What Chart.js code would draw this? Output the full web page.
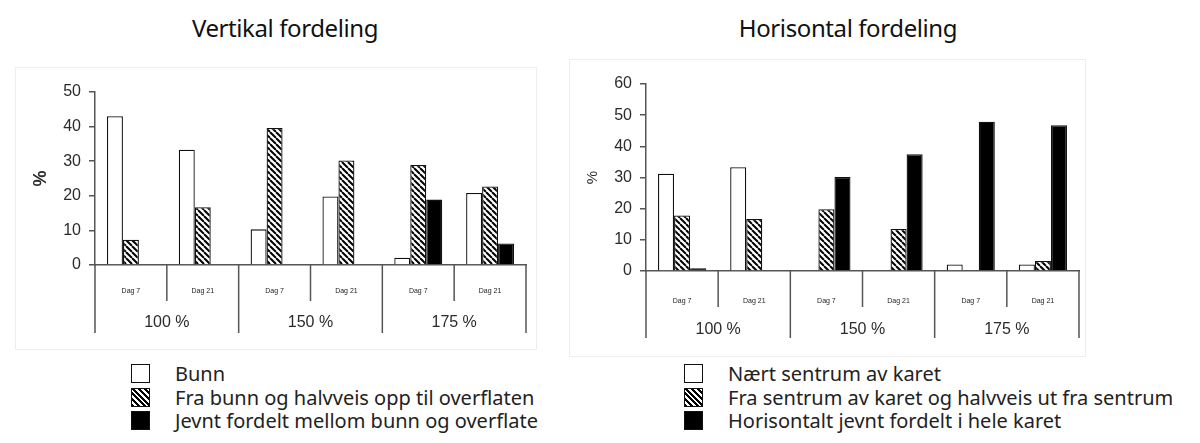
<!DOCTYPE html>
<html>
<head>
<meta charset="utf-8">
<script src="https://cdn.jsdelivr.net/npm/chart.js@4.4.1/dist/chart.umd.min.js"></script>
<style>
  body { margin: 0; background: #fff; width: 1200px; height: 443px; overflow: hidden; position: relative; font-family: "Noto Sans", sans-serif; }
  .title { position: absolute; top: 11px; font-size: 24px; color: #111; transform: translateX(-50%); white-space: nowrap; letter-spacing: -0.4px; }
  .panel { position: absolute; border: 1px solid #eeeeee; }
  canvas { position: absolute; }
  .legend { position: absolute; font-size: 20px; color: #222; }
  .legend div { height: 23.5px; line-height: 23.5px; white-space: nowrap; position: relative; padding-left: 44px; }
  .legend span { position: absolute; left: 0; top: 2px; width: 17px; height: 17px; border: 1.5px solid #111; box-sizing: content-box; }
</style>
</head>
<body>
<div class="panel" style="left:15px;top:67px;width:520px;height:281px"></div>
<div class="panel" style="left:569px;top:59px;width:515px;height:296px"></div>
<div class="title" style="left:285px">Vertikal fordeling</div>
<div class="title" style="left:848px">Horisontal fordeling</div>
<canvas id="vert" width="560" height="300" style="left:0;top:60px;width:560px;height:300px"></canvas>
<canvas id="hor" width="560" height="310" style="left:560px;top:50px;width:560px;height:310px"></canvas>
<div class="legend" id="legVert" style="left:131px;top:362px"></div>
<div class="legend" id="legHor" style="left:684px;top:362px"></div>
<script>
const categories = ['Dag 7', 'Dag 21', 'Dag 7', 'Dag 21', 'Dag 7', 'Dag 21'];
const groups = ['100 %', '150 %', '175 %'];

// Vertikal fordeling
const vertNames = ['Bunn', 'Fra bunn og halvveis opp til overflaten', 'Jevnt fordelt mellom bunn og overflate'];
const vertBunn = [43, 33.3, 10.3, 19.8, 2.1, 20.8];
const vertHalv = [7.3, 16.7, 39.6, 30.2, 28.9, 22.7];
const vertJevnt = [null, null, null, null, 18.9, 6.2];

// Horisontal fordeling
const horNames = ['Nært sentrum av karet', 'Fra sentrum av karet og halvveis ut fra sentrum', 'Horisontalt jevnt fordelt i hele karet'];
const horNaert = [31.2, 33.3, null, null, 2.1, 2.1];
const horHalv = [17.8, 16.7, 19.8, 13.5, null, 3.2];
const horJevnt = [0.9, null, 30.2, 37.5, 47.9, 46.8];

function hatch() {
    const c = document.createElement('canvas');
    c.width = c.height = 6;
    const g = c.getContext('2d');
    g.fillStyle = '#fff';
    g.fillRect(0, 0, 6, 6);
    g.strokeStyle = '#000';
    g.lineWidth = 2;
    for (const k of [-6, 0, 6]) {
        g.beginPath();
        g.moveTo(k, 0);
        g.lineTo(k + 6, 6);
        g.stroke();
    }
    return g.createPattern(c, 'repeat');
}

const fills = ['#ffffff', hatch(), '#000000'];
const swatches = ['#fff', 'repeating-linear-gradient(45deg, #000 0 2px, #fff 2px 4px)', '#000'];

/* second level of the category axis: separators and group labels */
const groupAxis = {
    id: 'groupAxis',
    afterDraw(chart, args, opts) {
        const x = chart.scales.x;
        const base = chart.scales.y.getPixelForValue(0);
        const n = categories.length;
        const w = (x.right - x.left) / n;
        const ctx = chart.ctx;
        ctx.save();
        ctx.strokeStyle = '#555';
        ctx.lineWidth = 1.5;
        for (let i = 0; i <= n; i++) {
            const px = i < n ? x.getPixelForValue(i) - w / 2 : x.right;
            const len = i % 2 === 0 ? opts.full : opts.short;
            ctx.beginPath();
            ctx.moveTo(px, base);
            ctx.lineTo(px, base + len);
            ctx.stroke();
        }
        ctx.fillStyle = '#2b2b2b';
        ctx.font = '16px "Liberation Sans", Arial, sans-serif';
        ctx.textAlign = 'center';
        ctx.textBaseline = 'middle';
        groups.forEach((g, j) => {
            const cx = (x.getPixelForValue(2 * j) + x.getPixelForValue(2 * j + 1)) / 2;
            ctx.fillText(g, cx, base + opts.label);
        });
        ctx.restore();
    }
};

function makeChart(id, names, series, cfg) {
    return new Chart(document.getElementById(id), {
        type: 'bar',
        data: {
            labels: categories,
            datasets: series.map((d, i) => ({
                label: names[i],
                data: d,
                backgroundColor: fills[i],
                borderColor: '#111',
                borderWidth: 1.3,
                categoryPercentage: 0.667,
                barPercentage: 1
            }))
        },
        options: {
            responsive: false,
            animation: false,
            layout: { padding: cfg.padding },
            plugins: {
                legend: { display: false },
                tooltip: { enabled: false },
                groupAxis: cfg.group
            },
            scales: {
                x: {
                    grid: { display: false },
                    border: { display: true, color: '#555', width: 1.5 },
                    ticks: { font: { size: 7, family: 'Liberation Sans' }, color: '#222', padding: cfg.tickPad, maxRotation: 0 },
                    afterFit: s => { s.height = cfg.xHeight; }
                },
                y: {
                    min: 0,
                    max: cfg.max,
                    ticks: { stepSize: 10, font: { size: 16, family: 'Liberation Sans' }, color: '#2b2b2b', padding: 8 },
                    grid: { drawOnChartArea: false, drawTicks: true, tickLength: 6, color: '#555', lineWidth: 1.5 },
                    border: { display: true, color: '#555', width: 1.5 },
                    title: {
                        display: true,
                        text: '%',
                        color: '#2b2b2b',
                        font: cfg.titleFont,
                        padding: { top: cfg.titlePad, bottom: 0 }
                    },
                    afterFit: s => { s.width = cfg.yWidth; }
                }
            }
        },
        plugins: [groupAxis]
    });
}

makeChart('vert', vertNames, [vertBunn, vertHalv, vertJevnt], {
    max: 50,
    padding: { left: 20, right: 34, top: 32, bottom: 0 },
    yWidth: 75, xHeight: 95, tickPad: 14, titlePad: 10,
    titleFont: { size: 18, weight: 'bold', family: 'Liberation Sans' },
    group: { short: 36, full: 68, label: 58 }
});

makeChart('hor', horNames, [horNaert, horHalv, horJevnt], {
    max: 60,
    padding: { left: 10, right: 41, top: 34, bottom: 0 },
    yWidth: 76, xHeight: 89, tickPad: 18, titlePad: 14,
    titleFont: { size: 15, family: 'Liberation Sans' },
    group: { short: 36, full: 67, label: 59 }
});

function legend(id, names) {
    const el = document.getElementById(id);
    names.forEach((n, i) => {
        const row = document.createElement('div');
        const sw = document.createElement('span');
        sw.style.background = swatches[i];
        row.appendChild(sw);
        row.appendChild(document.createTextNode(n));
        el.appendChild(row);
    });
}
legend('legVert', vertNames);
legend('legHor', horNames);
</script>
</body>
</html>
